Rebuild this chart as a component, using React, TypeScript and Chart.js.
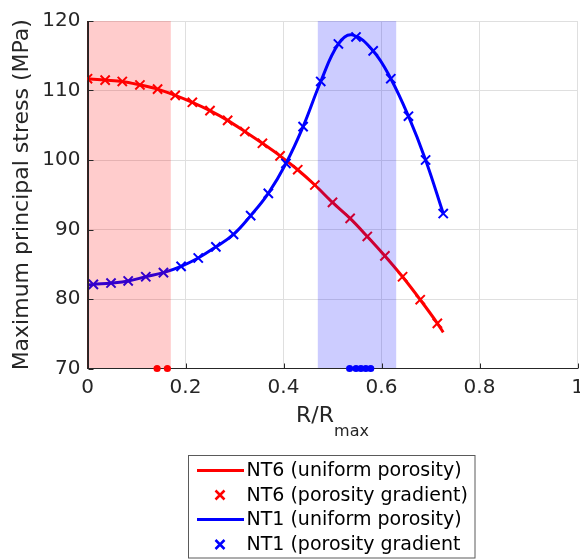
import React, { useEffect, useRef } from "react";
import { Chart, registerables } from "chart.js";

Chart.register(...registerables);

const FONT = "'DejaVu Sans', sans-serif";
const TEXT = "#262626";

const xTicks = [0, 0.2, 0.4, 0.6, 0.8, 1];
const xTickLabels = ["0", "0.2", "0.4", "0.6", "0.8", "1"];
const yTicks = [70, 80, 90, 100, 110, 120];
const yTickLabels = ["70", "80", "90", "100", "110", "120"];

// NT6 (porosity gradient) crosses
const nt6GradX = [0, 0.036, 0.071, 0.107, 0.143, 0.179, 0.214, 0.25, 0.286, 0.321, 0.357, 0.393, 0.429, 0.464, 0.5, 0.536, 0.571, 0.607, 0.643, 0.679, 0.714];
const nt6GradY = [111.7, 111.5, 111.3, 110.8, 110.2, 109.3, 108.3, 107.1, 105.7, 104.1, 102.4, 100.6, 98.6, 96.4, 93.9, 91.6, 89.0, 86.2, 83.2, 79.9, 76.5];
// NT6 (uniform porosity) line
const nt6UniX = [0, 0.036, 0.071, 0.107, 0.143, 0.179, 0.214, 0.25, 0.286, 0.321, 0.357, 0.393, 0.429, 0.464, 0.5, 0.536, 0.571, 0.607, 0.643, 0.679, 0.714, 0.726];
const nt6UniY = [111.7, 111.5, 111.3, 110.8, 110.2, 109.3, 108.3, 107.1, 105.7, 104.1, 102.4, 100.6, 98.6, 96.4, 93.9, 91.6, 89.0, 86.2, 83.2, 79.9, 76.5, 75.2];

// NT1 (porosity gradient) crosses
const nt1GradX = [0.012, 0.048, 0.083, 0.119, 0.155, 0.191, 0.226, 0.262, 0.298, 0.333, 0.369, 0.405, 0.44, 0.476, 0.512, 0.548, 0.583, 0.619, 0.655, 0.69, 0.726];
const nt1GradY = [82.1, 82.3, 82.6, 83.2, 83.8, 84.7, 85.9, 87.5, 89.3, 92.0, 95.2, 99.5, 104.8, 111.3, 116.7, 117.7, 115.7, 111.7, 106.3, 100.0, 92.3];
// NT1 (uniform porosity) line
const nt1UniX = [0, 0.012, 0.048, 0.083, 0.119, 0.155, 0.191, 0.226, 0.262, 0.298, 0.333, 0.369, 0.405, 0.44, 0.476, 0.512, 0.54, 0.583, 0.619, 0.655, 0.69, 0.726];
const nt1UniY = [82.0, 82.1, 82.3, 82.6, 83.2, 83.8, 84.7, 85.9, 87.5, 89.3, 92.0, 95.2, 99.5, 104.8, 111.3, 116.7, 118.0, 115.7, 111.7, 106.3, 100.0, 92.3];

// markers on the axis
const nt6DotsX = [0.142, 0.163];
const nt1DotsX = [0.535, 0.548, 0.558, 0.568, 0.578];
const dotsY = 70;

// shaded bands
const nt6Band = [0, 0.17];
const nt1Band = [0.47, 0.63];

const legendLabels = [
  "NT6 (uniform porosity)",
  "NT6 (porosity gradient)",
  "NT1 (uniform porosity)",
  "NT1 (porosity gradient",
];
const legendColors = ["#ff0000", "#ff0000", "#0000ff", "#0000ff"];
const legendKinds = ["line", "cross", "line", "cross"];

const pts = (xs: number[], ys: number[]) => xs.map((x, i) => ({ x, y: ys[i] }));

const overlay = {
  id: "overlay",
  afterDatasetsDraw(chart: any) {
    const { ctx, chartArea: a, scales } = chart;
    const x = scales.x;
    const y = scales.y;
    ctx.save();
    // bands
    const band = (b: number[], c: string) => {
      const x0 = x.getPixelForValue(b[0]);
      const x1 = x.getPixelForValue(b[1]);
      ctx.fillStyle = c;
      ctx.fillRect(x0, a.top, x1 - x0, a.bottom - a.top);
    };
    band(nt6Band, "rgba(255,0,0,0.2)");
    band(nt1Band, "rgba(0,0,255,0.2)");

    // axis lines and inward ticks
    ctx.strokeStyle = TEXT;
    ctx.lineWidth = 1;
    const L = Math.round(a.left) + 0.5;
    const B = Math.round(a.bottom) - 0.5;
    ctx.beginPath();
    ctx.moveTo(L, a.top);
    ctx.lineTo(L, B);
    ctx.lineTo(a.right, B);
    for (const v of xTicks) {
      const px = Math.round(x.getPixelForValue(v)) + 0.5;
      ctx.moveTo(px, B);
      ctx.lineTo(px, B - 5);
    }
    for (const v of yTicks) {
      const py = Math.round(y.getPixelForValue(v)) + 0.5;
      ctx.moveTo(L, py);
      ctx.lineTo(L + 5, py);
    }
    ctx.stroke();

    // axis-point dots on top
    const dot = (xs: number[], c: string) => {
      ctx.fillStyle = c;
      for (const v of xs) {
        ctx.beginPath();
        ctx.arc(x.getPixelForValue(v), y.getPixelForValue(dotsY), 3.6, 0, Math.PI * 2);
        ctx.fill();
      }
    };
    dot(nt6DotsX, "#ff0000");
    dot(nt1DotsX, "#0000ff");

    // x title with subscript
    ctx.fillStyle = TEXT;
    ctx.textBaseline = "alphabetic";
    ctx.textAlign = "left";
    const mainFont = `22px ${FONT}`;
    const subFont = `16px ${FONT}`;
    ctx.font = mainFont;
    const w1 = ctx.measureText("R/R").width;
    ctx.font = subFont;
    const w2 = ctx.measureText("max").width;
    const cx = (a.left + a.right) / 2;
    const sx = cx - (w1 + w2) / 2;
    ctx.font = mainFont;
    ctx.fillText("R/R", sx, 422);
    ctx.font = subFont;
    ctx.fillText("max", sx + w1, 436);

    // y title
    ctx.save();
    ctx.translate(28, (a.top + a.bottom) / 2);
    ctx.rotate(-Math.PI / 2);
    ctx.font = mainFont;
    ctx.textAlign = "center";
    ctx.textBaseline = "alphabetic";
    ctx.fillText("Maximum principal stress (MPa)", 0, 0);
    ctx.restore();

    // legend
    const lx = 188.5, ly = 455.5, lw = 286.5, lh = 102.5;
    ctx.fillStyle = "#ffffff";
    ctx.fillRect(lx, ly, lw, lh);
    ctx.strokeStyle = "#5a5a5a";
    ctx.lineWidth = 1;
    ctx.strokeRect(lx, ly, lw, lh);
    const rows = [470.5, 495, 519.5, 544.5];
    ctx.font = `19px ${FONT}`;
    ctx.textBaseline = "middle";
    ctx.textAlign = "left";
    legendLabels.forEach((lab, i) => {
      const ry = rows[i];
      ctx.strokeStyle = legendColors[i];
      if (legendKinds[i] === "line") {
        ctx.lineWidth = 3;
        ctx.beginPath();
        ctx.moveTo(197, ry);
        ctx.lineTo(244, ry);
        ctx.stroke();
      } else {
        ctx.lineWidth = 2.5;
        const h = 4.5;
        ctx.beginPath();
        ctx.moveTo(220 - h, ry - h);
        ctx.lineTo(220 + h, ry + h);
        ctx.moveTo(220 - h, ry + h);
        ctx.lineTo(220 + h, ry - h);
        ctx.stroke();
      }
      ctx.fillStyle = "#000000";
      ctx.fillText(lab, 246.5, ry + 1);
    });
    ctx.restore();
  },
};

export default function App() {
  const ref = useRef<HTMLCanvasElement | null>(null);
  useEffect(() => {
    if (!ref.current) return;
    const chart = new Chart(ref.current, {
      type: "scatter",
      data: {
        datasets: [
          {
            label: legendLabels[3],
            data: pts(nt1GradX, nt1GradY),
            showLine: false,
            pointStyle: "crossRot",
            pointRadius: 6.5,
            pointBorderWidth: 2,
            borderColor: "#0000ff",
            backgroundColor: "#0000ff",
            order: 0,
          },
          {
            label: legendLabels[2],
            data: pts(nt1UniX, nt1UniY),
            showLine: true,
            pointRadius: 0,
            borderWidth: 3,
            borderColor: "#0000ff",
            tension: 0.4,
            order: 1,
          },
          {
            label: legendLabels[1],
            data: pts(nt6GradX, nt6GradY),
            showLine: false,
            pointStyle: "crossRot",
            pointRadius: 6.5,
            pointBorderWidth: 2,
            borderColor: "#ff0000",
            backgroundColor: "#ff0000",
            order: 2,
          },
          {
            label: legendLabels[0],
            data: pts(nt6UniX, nt6UniY),
            showLine: true,
            pointRadius: 0,
            borderWidth: 3,
            borderColor: "#ff0000",
            cubicInterpolationMode: "monotone",
            order: 3,
          },
        ] as any,
      },
      options: {
        animation: false,
        responsive: false,
        events: [],
        layout: { autoPadding: false, padding: { top: 21, right: 2.5, left: 0, bottom: 0 } },
        plugins: { legend: { display: false }, tooltip: { enabled: false } },
        scales: {
          x: {
            type: "linear",
            min: 0,
            max: 1,
            afterBuildTicks: (s: any) => {
              s.ticks = xTicks.map((v) => ({ value: v }));
            },
            ticks: {
              font: { family: FONT, size: 20 },
              color: TEXT,
              padding: 7,
              maxRotation: 0,
              autoSkip: false,
              callback: (_v: any, i: number) => xTickLabels[i],
            },
            grid: { color: "#dfdfdf", drawTicks: false },
            border: { color: TEXT },
            afterFit: (s: any) => {
              s.height = 190.5;
              s.paddingLeft = 0;
              s.paddingRight = 0;
            },
          },
          y: {
            type: "linear",
            min: 70,
            max: 120,
            afterBuildTicks: (s: any) => {
              s.ticks = yTicks.map((v) => ({ value: v }));
            },
            ticks: {
              font: { family: FONT, size: 20 },
              color: TEXT,
              padding: 7,
              autoSkip: false,
              callback: (_v: any, i: number) => yTickLabels[i],
            },
            grid: { color: "#dfdfdf", drawTicks: false },
            border: { color: TEXT },
            afterFit: (s: any) => {
              s.width = 87.5;
              s.paddingTop = 0;
              s.paddingBottom = 0;
            },
          },
        },
      } as any,
      plugins: [overlay],
    });
    return () => chart.destroy();
  }, []);
  return (
    <div style={{ position: "absolute", left: 0, top: 0, width: 580, height: 559, background: "#fff" }}>
      <canvas ref={ref} width={580} height={559} style={{ display: "block" }} />
    </div>
  );
}
